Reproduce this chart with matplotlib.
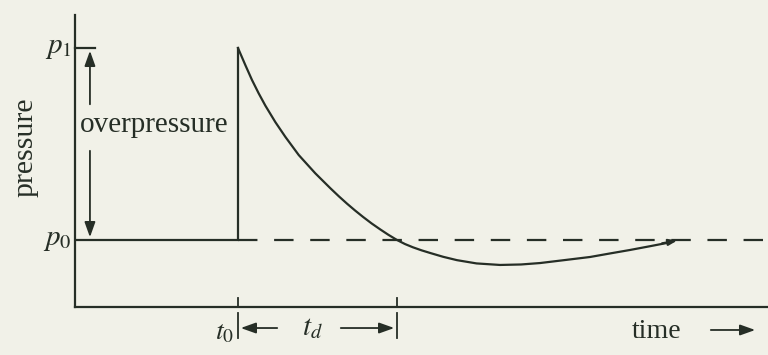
import matplotlib
matplotlib.use("Agg")
import matplotlib.pyplot as plt

plt.rcParams["font.family"] = ["Liberation Serif", "DejaVu Serif"]
plt.rcParams["mathtext.fontset"] = "stix"
plt.rcParams["lines.scale_dashes"] = False

# levels / times (t0 = arrival, td = positive phase duration)
p0, p1 = 1.0, 3.0
t0, td = 1.0, 1.0

# pressure trace after arrival
curve_t = [1.000, 1.046, 1.088, 1.130, 1.172, 1.235, 1.298, 1.382, 1.486, 1.581,
           1.635, 1.686, 1.735, 1.786, 1.840, 1.893, 1.945, 2.000, 2.050, 2.100,
           2.155, 2.210, 2.290, 2.377, 2.500, 2.648, 2.780, 2.900, 3.050, 3.214,
           3.340, 3.465, 3.590, 3.700]
curve_p = [3.000, 2.823, 2.667, 2.528, 2.400, 2.228, 2.074, 1.885, 1.695, 1.539,
           1.454, 1.378, 1.309, 1.241, 1.173, 1.112, 1.055, 1.000, 0.958, 0.924,
           0.892, 0.864, 0.825, 0.790, 0.756, 0.740, 0.745, 0.760, 0.790, 0.823,
           0.860, 0.896, 0.935, 0.970]

INK = "#262e26"
BG = "#f1f1e8"
LW = 1.6

fig = plt.figure(figsize=(7.68, 3.55), dpi=100, facecolor=BG)
ax = fig.add_axes([75 / 768, 48 / 355, 1 - 75 / 768, (307 - 15) / 355])
ax.set_facecolor(BG)
ax.set_xlim(-0.025, 4.333)
ax.set_ylim(0.302, 3.344)
for s in ("top", "right"):
    ax.spines[s].set_visible(False)
for s in ("left", "bottom"):
    ax.spines[s].set_color(INK)
    ax.spines[s].set_linewidth(LW)
ax.set_xticks([])
ax.set_yticks([])

# ambient level before arrival, the shock jump, then decay
ax.plot([ax.get_xlim()[0], t0, t0], [p0, p0, p1], color=INK, lw=LW, solid_joinstyle="miter")
ax.plot(curve_t, curve_p, color=INK, lw=LW)
ax.annotate("", xy=(3.78, 1.0), xytext=(curve_t[-1] - 0.05, curve_p[-1] - 0.01),
            arrowprops=dict(arrowstyle="-|>,head_length=0.5,head_width=0.18", color=INK, lw=LW))
ax.plot([t0, ax.get_xlim()[1]], [p0, p0], color=INK, lw=LW, dashes=(14, 12), clip_on=False)

# y level marks and labels
x0 = ax.get_xlim()[0]
ax.plot([x0, 0.1], [p1, p1], color=INK, lw=LW, clip_on=False)
ax.text(x0 - 0.02, p1, "$p_1$", fontsize=21, ha="right", va="center", color=INK)
ax.text(x0 - 0.02, p0, "$p_0$", fontsize=21, ha="right", va="center", color=INK)

akw = dict(arrowstyle="-|>,head_length=0.7,head_width=0.25", color=INK, lw=1.3,
           mutation_scale=13)

# overpressure double arrow with text in the gap
xa = 0.069
ax.annotate("", xy=(xa, p1), xytext=(xa, 2.385), arrowprops=akw)
ax.annotate("", xy=(xa, p0), xytext=(xa, 1.958), arrowprops=akw)
ax.text(0.472, 2.2, "overpressure", fontsize=21, ha="center", va="center", color=INK)

# time marks on the axis and the t_d span below it
for t in (t0, t0 + td):
    ax.plot([t, t], [0.302, 0.396], color=INK, lw=1.3, clip_on=False)
    ax.plot([t, t], [0.24, -0.02], color=INK, lw=1.3, clip_on=False)
yarr = 0.083
ax.annotate("", xy=(t0, yarr), xytext=(1.264, yarr), arrowprops=akw, annotation_clip=False)
ax.annotate("", xy=(t0 + td, yarr), xytext=(1.629, yarr), arrowprops=akw, annotation_clip=False)
ax.text(1.465, yarr, "$t_d$", fontsize=21, ha="center", va="center", color=INK)
ax.text(0.975, 0.03, "$t_0$", fontsize=20, ha="right", va="center", color=INK)

ax.text(3.635, 0.05, "time", fontsize=20, ha="center", va="center", color=INK)
ax.annotate("", xy=(4.27, 0.0625), xytext=(3.956, 0.0625), arrowprops=akw, annotation_clip=False)

fig.text(25 / 768, 1 - 147 / 355, "pressure", rotation=90, fontsize=21.5,
         ha="center", va="center", color=INK)

fig.savefig("out.png", dpi=100, facecolor=BG)
